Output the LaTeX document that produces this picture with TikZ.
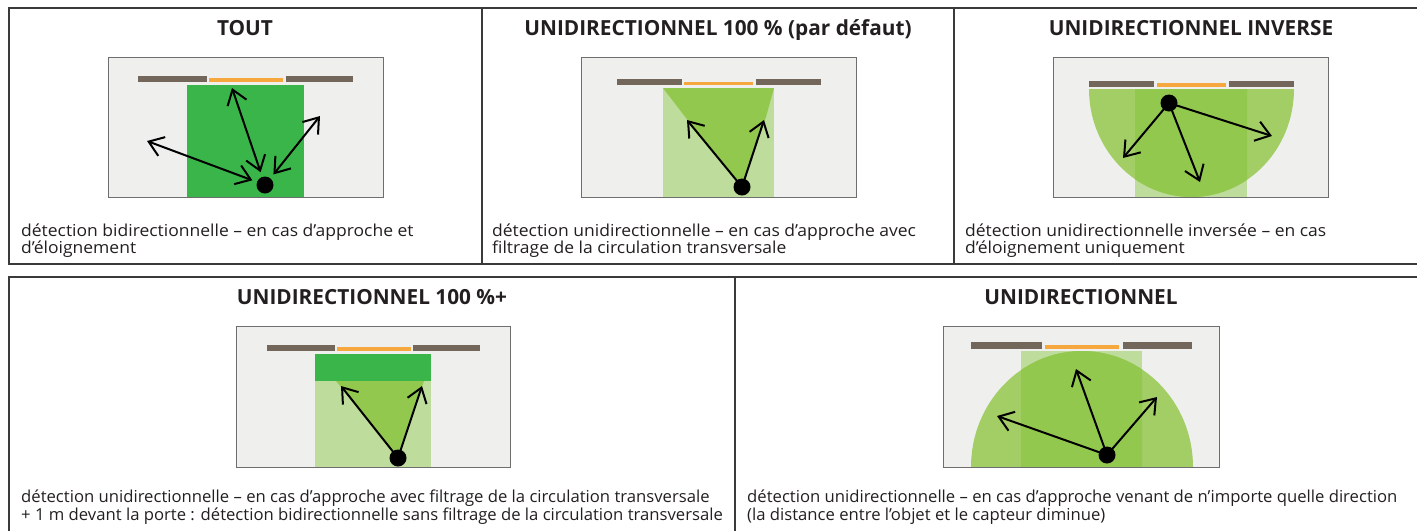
\documentclass[tikz,border=0pt]{standalone}
\usepackage{fontspec}
\setmainfont{Open Sans}
\newfontfamily\capfonttop[FakeStretch=1.06]{Open Sans}
\newfontfamily\capfontbot[FakeStretch=1.01]{Open Sans}
\usetikzlibrary{arrows.meta}
\definecolor{framec}{HTML}{3A3A3A}
\definecolor{bgc}{HTML}{EFF0EE}
\definecolor{rimc}{HTML}{6E6E6E}
\definecolor{barc}{HTML}{73675B}
\definecolor{orc}{HTML}{F6A83F}
\definecolor{gbright}{HTML}{3AB54A}
\definecolor{gmid}{HTML}{93C84F}
\definecolor{gside}{HTML}{A3CE66}
\definecolor{glight}{HTML}{BEDC9C}
\definecolor{txtc}{HTML}{231F20}
\begin{document}
\begin{tikzpicture}[x=1pt,y=-1pt,
  frameline/.style={draw=framec, line width=1.3pt},
  scene/.style={fill=bgc},
  rim/.style={draw=rimc, line width=1pt},
  wallbar/.style={fill=barc},
  doorbar/.style={fill=orc},
  barb/.tip={Straight Barb[length=14pt,width=20pt,line width=2pt]},
  arr/.style={line width=2pt, -barb},
  dbl/.style={line width=2pt, barb-barb},
  dotn/.style={circle, fill=black, inner sep=0pt, minimum size=17pt},
  dotgap/.style={dotn, outer sep=5pt},
  ttl/.style={font=\fontsize{20.8}{24}\selectfont\bfseries, text=txtc, anchor=base, inner sep=0pt},
  captxt/.style={font=\capfonttop\fontsize{16.5}{19}\selectfont, text=txtc, anchor=base west, inner sep=0pt},
  captxtb/.style={font=\capfontbot\fontsize{16.5}{19}\selectfont, text=txtc, anchor=base west, inner sep=0pt}
]
\useasboundingbox (0,0) rectangle (1417,531);

% ---------- frames ----------
\draw[frameline] (1417,8) -- (9,8) -- (9,264) -- (1417,264);
\draw[frameline] (482,8) -- (482,264);
\draw[frameline] (954,8) -- (954,264);
\draw[frameline] (1417,277) -- (9,277) -- (9,531);
\draw[frameline] (735,277) -- (735,531);

% ---------- panel 1 : TOUT ----------
\node[ttl] (t1) at (245,35) {TOUT};
\fill[scene] (108,57) rectangle (383,197);
\fill[gbright] (187,85) rectangle (304,197);
\fill[wallbar] (138,76) rectangle (207,82);
\fill[doorbar] (209,78) rectangle (283,82);
\fill[wallbar] (286,76) rectangle (353,82);
\draw[rim] (108,57) rectangle (383,197);
\node[dotgap] (d1) at (265,185) {};
\coordinate (e1a) at (147,141);
\coordinate (e1b) at (232,88);
\coordinate (e1c) at (320,116);
\draw[dbl] (d1) -- (e1a);
\draw[dbl] (d1) -- (e1b);
\draw[dbl] (d1) -- (e1c);
\node[captxt] (c1a) at (21,236) {détection bidirectionnelle – en cas d’approche et};
\node[captxt] (c1b) at (21,253) {d’éloignement};

% ---------- panel 2 : UNIDIRECTIONNEL 100 % (par défaut) ----------
\node[ttl] (t2) at (718,35) {UNIDIRECTIONNEL 100 \% (par défaut)};
\fill[scene] (581,57) rectangle (856,197);
\fill[glight] (663,88) rectangle (774,197);
\fill[gmid] (663,88) -- (774,88) -- (766,117) -- (742,187) -- (686,118) -- cycle;
\fill[wallbar] (617,79) rectangle (682,85);
\fill[doorbar] (684,82) rectangle (753,85);
\fill[wallbar] (756,79) rectangle (821,85);
\draw[rim] (581,57) rectangle (856,197);
\node[dotn] (d2) at (742,187) {};
\coordinate (e2a) at (687,120);
\coordinate (e2b) at (764,120);
\draw[arr] (d2.center) -- (e2a);
\draw[arr] (d2.center) -- (e2b);
\node[captxt] (c2a) at (492,236) {détection unidirectionnelle – en cas d’approche avec};
\node[captxt] (c2b) at (492,253) {filtrage de la circulation transversale};

% ---------- panel 3 : UNIDIRECTIONNEL INVERSE ----------
\node[ttl] (t3) at (1191,35) {UNIDIRECTIONNEL INVERSE};
\fill[scene] (1053,57) rectangle (1328,197);
\fill[glight] (1135,89) rectangle (1247,197);
\begin{scope}
  \clip (1089,89) rectangle (1294,197);
  \fill[gside] (1191.5,89) ellipse [x radius=102.5, y radius=108];
\end{scope}
\begin{scope}
  \clip (1135,89) rectangle (1247,197);
  \fill[gmid] (1191.5,89) ellipse [x radius=102.5, y radius=108];
\end{scope}
\fill[wallbar] (1089,81) rectangle (1154,87);
\fill[doorbar] (1157,83) rectangle (1226,87);
\fill[wallbar] (1229,81) rectangle (1294,87);
\draw[rim] (1053,57) rectangle (1328,197);
\node[dotn] (d3) at (1169,103) {};
\coordinate (e3a) at (1123,158);
\coordinate (e3b) at (1200,182);
\coordinate (e3c) at (1272,136);
\draw[arr] (d3.center) -- (e3a);
\draw[arr] (d3.center) -- (e3b);
\draw[arr] (d3.center) -- (e3c);
\node[captxt] (c3a) at (965,236) {détection unidirectionnelle inversée – en cas};
\node[captxt] (c3b) at (965,253) {d’éloignement uniquement};

% ---------- panel 4 : UNIDIRECTIONNEL 100 %+ ----------
\node[ttl] (t4) at (372,304) {UNIDIRECTIONNEL 100 \%+};
\fill[scene] (236,326) rectangle (510,467);
\fill[glight] (315,381) rectangle (431,467);
\fill[gbright] (315,354) rectangle (431,381);
\fill[gmid] (336,381) -- (424,381) -- (398,458) -- cycle;
\fill[wallbar] (267,345) rectangle (335,351);
\fill[doorbar] (337,347) rectangle (411,351);
\fill[wallbar] (413,345) rectangle (480,351);
\draw[rim] (236,326) rectangle (510,467);
\node[dotn] (d4) at (398,458) {};
\coordinate (e4a) at (341,386);
\coordinate (e4b) at (422,386);
\draw[arr] (d4.center) -- (e4a);
\draw[arr] (d4.center) -- (e4b);
\node[captxtb] (c4a) at (21,502) {détection unidirectionnelle – en cas d’approche avec filtrage de la circulation transversale};
\node[captxtb] (c4b) at (21,520) {+ 1 m devant la porte : détection bidirectionnelle sans filtrage de la circulation transversale};

% ---------- panel 5 : UNIDIRECTIONNEL ----------
\node[ttl] (t5) at (1081,304) {UNIDIRECTIONNEL};
\fill[scene] (943,326) rectangle (1219,467);
\fill[glight] (1021,351) rectangle (1142,467);
\begin{scope}
  \clip (971,351) rectangle (1193,467);
  \fill[gside] (1082,467) ellipse [x radius=111, y radius=116];
\end{scope}
\begin{scope}
  \clip (1021,351) rectangle (1142,467);
  \fill[gmid] (1082,467) ellipse [x radius=111, y radius=116];
\end{scope}
\fill[wallbar] (971,342) rectangle (1042,349);
\fill[doorbar] (1045,345) rectangle (1119,349);
\fill[wallbar] (1123,342) rectangle (1192,349);
\draw[rim] (943,326) rectangle (1219,467);
\node[dotn] (d5) at (1107,455) {};
\coordinate (e5a) at (997,416);
\coordinate (e5b) at (1076,369);
\coordinate (e5c) at (1157,397);
\draw[arr] (d5.center) -- (e5a);
\draw[arr] (d5.center) -- (e5b);
\draw[arr] (d5.center) -- (e5c);
\node[captxtb] (c5a) at (747,502) {détection unidirectionnelle – en cas d’approche venant de n’importe quelle direction};
\node[captxtb] (c5b) at (747,520) {(la distance entre l’objet et le capteur diminue)};
\end{tikzpicture}
\end{document}
